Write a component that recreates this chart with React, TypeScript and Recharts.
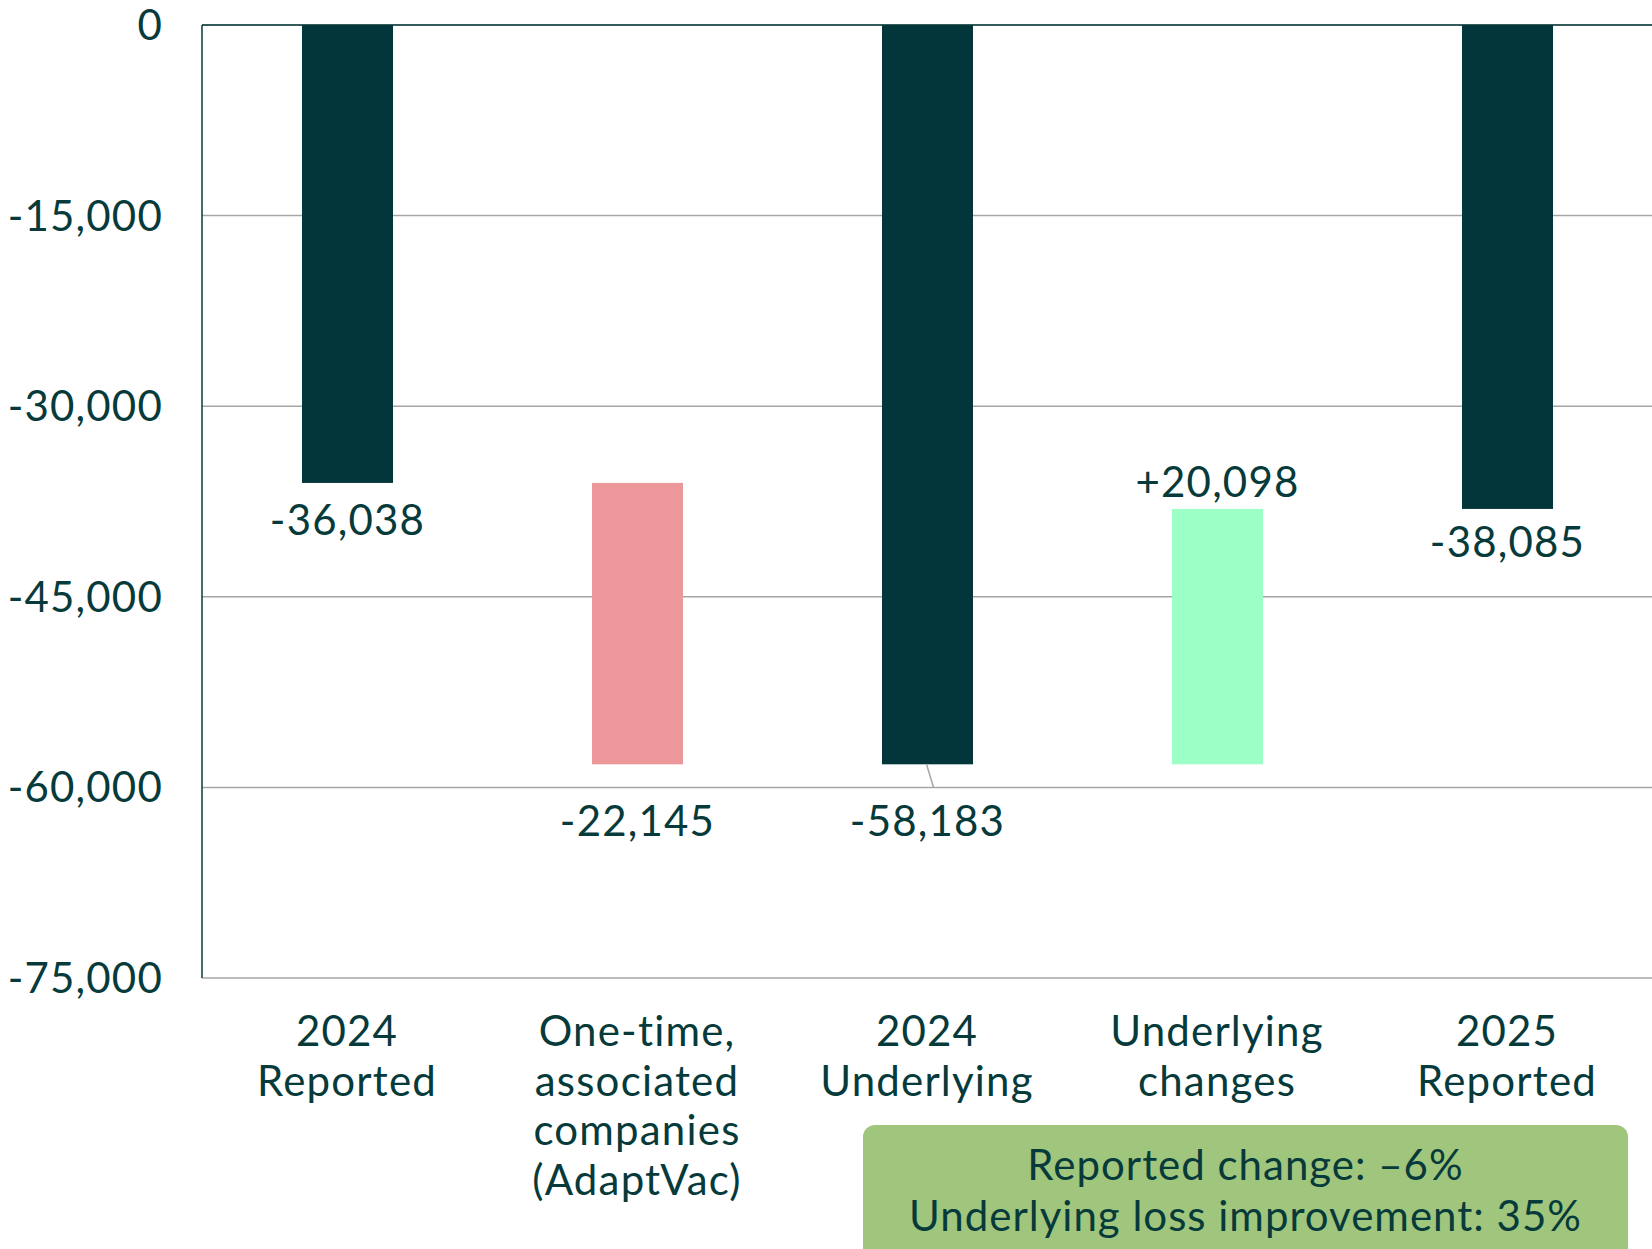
import React from 'react';
import { BarChart, Bar, XAxis, YAxis, CartesianGrid, ReferenceLine } from 'recharts';

// waterfall steps
const categories = [
  '2024\nReported',
  'One-time,\nassociated\ncompanies\n(AdaptVac)',
  '2024\nUnderlying',
  'Underlying\nchanges',
  '2025\nReported',
];
const values = [-36038, -22145, -58183, 20098, -38085];
const isTotal = [true, false, true, false, true];
const valueLabels = ['-36,038', '-22,145', '-58,183', '+20,098', '-38,085'];
const yTicks = [0, -15000, -30000, -45000, -60000, -75000];

const INK = '#073a3a';
const FONT = 'Lato, "Noto Sans", sans-serif';
const FS = 42;
const LS = 1.2;
const colors = ['#03363a', '#ec979a', '#03363a', '#9cffc6', '#03363a'];
// label distance from the bar end (negative = above the bar)
const labelGap = [36, 56, 56, -28, 32];

// build floating ranges for the waterfall
let running = 0;
const data = categories.map((name, i) => {
  let range: [number, number];
  if (isTotal[i]) {
    running = values[i];
    range = [0, values[i]];
  } else {
    range = [running, running + values[i]];
    running = running + values[i];
  }
  return { name, range, label: valueLabels[i] };
});

const CategoryTick = ({ x, y, payload }: any) => {
  const lines = String(payload.value).split('\n');
  return (
    <text x={x} y={y} textAnchor="middle" fill={INK} fontSize={FS} letterSpacing={LS} fontFamily={FONT}>
      {lines.map((l, i) => (
        <tspan key={i} x={x} y={y + 44 + i * 49.5} dominantBaseline="central">{l}</tspan>
      ))}
    </text>
  );
};

const StepShape = (props: any) => {
  const { x, y, width, height, index } = props;
  const top = Math.min(y, y + height);
  const bottom = Math.max(y, y + height);
  const cx = x + width / 2;
  const gap = labelGap[index];
  const ly = gap < 0 ? top + gap : bottom + gap;
  return (
    <g>
      <rect x={x} y={top} width={width} height={bottom - top} fill={colors[index]} />
      {index === 2 && (
        <line x1={cx - 1} y1={bottom} x2={cx + 6} y2={bottom + 23} stroke="#a6a6a6" strokeWidth={1.5} />
      )}
      <text x={cx} y={ly} textAnchor="middle" dominantBaseline="central" fill={INK} fontSize={FS} letterSpacing={LS} fontFamily={FONT}>
        {valueLabels[index]}
      </text>
    </g>
  );
};

export default function App() {
  return (
    <div style={{ position: 'absolute', left: 0, top: 0, width: 1652, height: 1249, background: '#fff', overflow: 'hidden' }}>
      <BarChart width={1652} height={1249} data={data} margin={{ top: 25, right: 0, bottom: 0, left: 0 }}>
        <CartesianGrid vertical={false} stroke="#a6a6a6" strokeWidth={1.5} />
        <XAxis dataKey="name" axisLine={false} tickLine={false} height={271} tick={<CategoryTick />} interval={0} />
        <YAxis
          domain={[-75000, 0]}
          ticks={yTicks}
          width={202}
          axisLine={{ stroke: INK, strokeWidth: 1.5 }}
          tickLine={false}
          tickSize={0}
          tickMargin={39}
          tick={{ fill: INK, fontSize: FS, fontFamily: FONT, letterSpacing: LS }}
          tickFormatter={(v: number) => v.toLocaleString('en-US')}
        />
        <ReferenceLine y={0} stroke={INK} strokeWidth={1.5} />
        <Bar dataKey="range" barSize={91} shape={<StepShape />} isAnimationActive={false} />
      </BarChart>
      <div
        style={{
          position: 'absolute', left: 863, top: 1125, width: 765, height: 150,
          background: '#a0c57c', borderRadius: 12, color: INK, fontFamily: FONT,
          fontSize: FS, letterSpacing: 1, lineHeight: '51px', textAlign: 'center', paddingTop: 14, boxSizing: 'border-box',
        }}
      >
        <div>Reported change: –6%</div>
        <div>Underlying loss improvement: 35%</div>
      </div>
    </div>
  );
}
